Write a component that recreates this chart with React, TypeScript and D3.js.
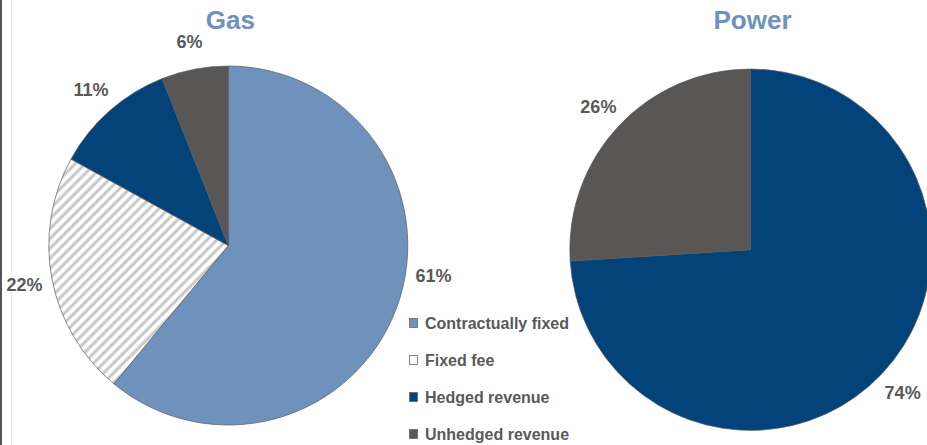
import React from 'react';
import * as d3 from 'd3';

// revenue mix, percent
const gasCategories = ['Contractually fixed', 'Fixed fee', 'Hedged revenue', 'Unhedged revenue'];
const gasValues = [61, 22, 11, 6];
const powerCategories = ['Hedged revenue', 'Unhedged revenue'];
const powerValues = [74, 26];
const legendItems = ['Contractually fixed', 'Fixed fee', 'Hedged revenue', 'Unhedged revenue'];

const colors: Record<string, string> = {
  'Contractually fixed': '#6f92bd',
  'Fixed fee': 'url(#hatch)',
  'Hedged revenue': '#03437a',
  'Unhedged revenue': '#595656',
};

const W = 927;
const H = 445;
const textColor = '#595959';
const titleColor = '#6f92bd';
const font = '"Liberation Sans", Arial, sans-serif';

const legendX = 409;
const legendY0 = 323;
const legendGap = 37;

interface PieProps {
  title: string;
  categories: string[];
  values: number[];
  cx: number;
  cy: number;
  r: number;
  avoidLegend?: boolean;
}

const Pie: React.FC<PieProps> = ({ title, categories, values, cx, cy, r, avoidLegend }) => {
  const pie = d3.pie<number>().sort(null).value(d => d);
  const arcs = pie(values);
  const arc = d3.arc<d3.PieArcDatum<number>>().innerRadius(0).outerRadius(r);
  const labelR = r + 28;
  // keep labels clear of the legend block on the right
  const limY = legendY0 - legendGap - 10;

  return (
    <g>
      <text x={cx + 2} y={29} textAnchor="middle" fontFamily={font} fontWeight="bold"
        fontSize={26} fill={titleColor}>{title}</text>
      <g transform={`translate(${cx},${cy})`}>
        {arcs.map((a, i) => (
          <path key={i} d={arc(a) || ''} fill={colors[categories[i]]}
            stroke="#5a5a5a" strokeWidth={0.7} />
        ))}
        {arcs.map((a, i) => {
          let ang = (a.startAngle + a.endAngle) / 2;
          let x = Math.sin(ang) * labelR;
          let y = -Math.cos(ang) * labelR;
          if (avoidLegend && x > 0 && cy + y > limY) {
            ang = Math.acos(-(limY - cy) / labelR);
            x = Math.sin(ang) * labelR;
            y = -Math.cos(ang) * labelR;
          }
          return (
            <text key={'l' + i} x={x} y={y} dy="0.35em" textAnchor="middle"
              fontFamily={font} fontWeight="bold" fontSize={18} fill={textColor}>
              {d3.format('d')(a.data)}%
            </text>
          );
        })}
      </g>
    </g>
  );
};

export default function App() {
  return (
    <svg width={W} height={H} style={{ position: 'absolute', left: 0, top: 0, background: '#fff' }}>
      <defs>
        <pattern id="hatch" patternUnits="userSpaceOnUse" width={7} height={7}
          patternTransform="rotate(45)">
          <rect width={7} height={7} fill="#ffffff" />
          <rect x={0.5} width={3} height={7} fill="#c6c6c6" />
        </pattern>
      </defs>
      <rect x={0} y={0} width={W} height={H} fill="#fff" />
      <rect x={0} y={0} width={2} height={H} fill="#555" />
      <line x1={11.5} x2={11.5} y1={0} y2={H} stroke="#ececec" strokeWidth={1} />

      <Pie title="Gas" categories={gasCategories} values={gasValues} cx={228.3} cy={245.5} r={179.5} avoidLegend />
      <Pie title="Power" categories={powerCategories} values={powerValues} cx={750.5} cy={249.7} r={180.7} />

      <g>
        {legendItems.map((name, i) => (
          <g key={name} transform={`translate(${legendX},${legendY0 + i * legendGap})`}>
            <rect x={0.5} y={-4.5} width={8} height={9} fill={name === 'Fixed fee' ? '#fff' : colors[name]}
              stroke="#666" strokeWidth={0.8} />
            <text x={16} y={0} dy="0.36em" fontFamily={font} fontWeight="bold" fontSize={16}
              fill={textColor}>{name}</text>
          </g>
        ))}
      </g>
    </svg>
  );
}
